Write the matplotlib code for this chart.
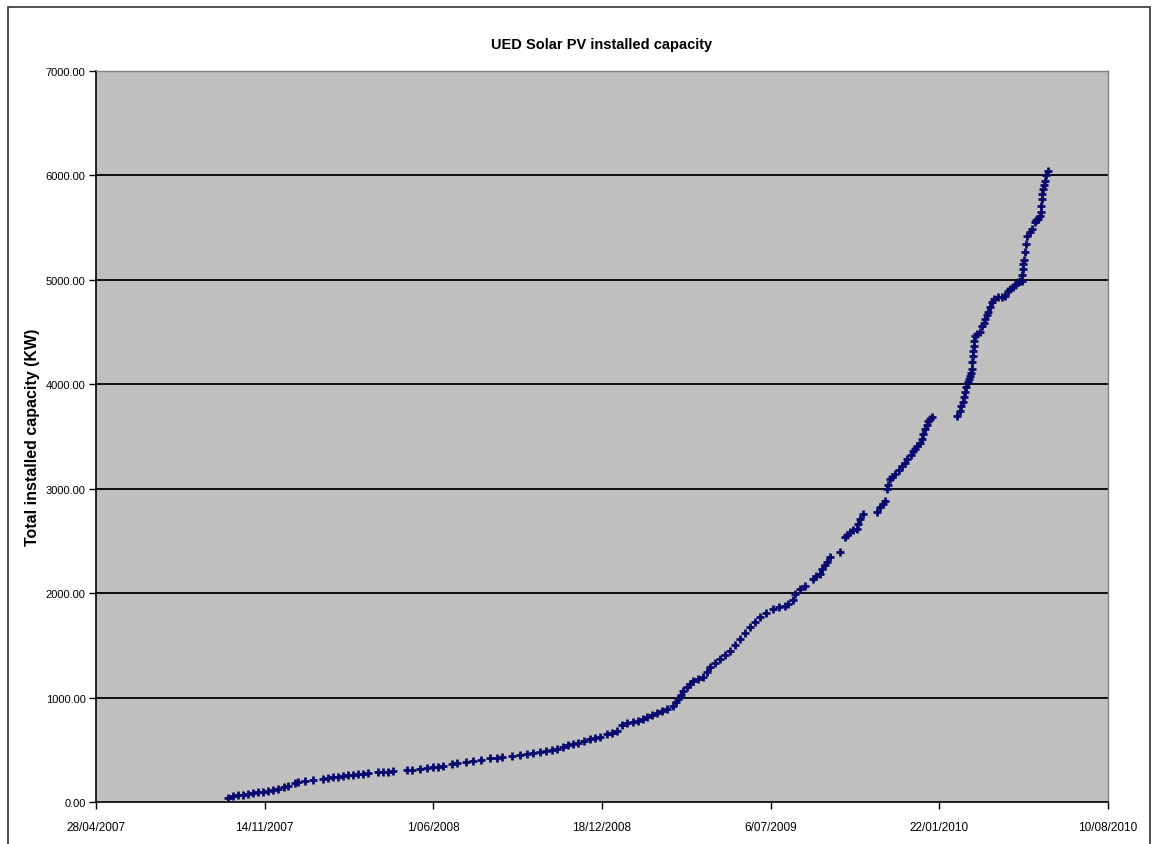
import numpy as np
import pandas as pd
import matplotlib
matplotlib.use("Agg")
import matplotlib.pyplot as plt
from matplotlib.patches import Rectangle

plt.rcParams['font.family'] = ['Liberation Sans', 'DejaVu Sans']

#%% datos (fecha, kW acumulados)
fechas = [
    "2007-10-02", "2007-10-07", "2007-10-13", "2007-10-19", "2007-10-25", "2007-10-31",
    "2007-11-06", "2007-11-12", "2007-11-18", "2007-11-24", "2007-11-30", "2007-12-07",
    "2007-12-12", "2007-12-20", "2007-12-24", "2008-01-01", "2008-01-10", "2008-01-22",
    "2008-01-28", "2008-02-03", "2008-02-09", "2008-02-15", "2008-02-21", "2008-02-27",
    "2008-03-04", "2008-03-10", "2008-03-16", "2008-03-27", "2008-04-02", "2008-04-08",
    "2008-04-14", "2008-05-01", "2008-05-07", "2008-05-16", "2008-05-24", "2008-06-01",
    "2008-06-07", "2008-06-12", "2008-06-23", "2008-06-29", "2008-07-10", "2008-07-18",
    "2008-07-28", "2008-08-07", "2008-08-15", "2008-08-21", "2008-09-02", "2008-09-12",
    "2008-09-20", "2008-09-27", "2008-10-05", "2008-10-13", "2008-10-20", "2008-10-26",
    "2008-11-02", "2008-11-08", "2008-11-14", "2008-11-20", "2008-11-27", "2008-12-04",
    "2008-12-10", "2008-12-16", "2008-12-24", "2008-12-30", "2009-01-05", "2009-01-11",
    "2009-01-17", "2009-01-24", "2009-01-30", "2009-02-05", "2009-02-09", "2009-02-15",
    "2009-02-21", "2009-02-27", "2009-03-05", "2009-03-12", "2009-03-16", "2009-03-18",
    "2009-03-22", "2009-03-24", "2009-03-29", "2009-04-01", "2009-04-05", "2009-04-11",
    "2009-04-17", "2009-04-22", "2009-04-25", "2009-05-01", "2009-05-07", "2009-05-13",
    "2009-05-19", "2009-05-25", "2009-05-31", "2009-06-06", "2009-06-11", "2009-06-17",
    "2009-06-23", "2009-06-30", "2009-07-09", "2009-07-16", "2009-07-23", "2009-07-27",
    "2009-08-01", "2009-08-04", "2009-08-10", "2009-08-16", "2009-08-25", "2009-08-29",
    "2009-09-02", "2009-09-05", "2009-09-08", "2009-09-11", "2009-09-14", "2009-09-26",
    "2009-10-02", "2009-10-05", "2009-10-08", "2009-10-12", "2009-10-16", "2009-10-18",
    "2009-10-20", "2009-10-23", "2009-11-09", "2009-11-13", "2009-11-16", "2009-11-19",
    "2009-11-21", "2009-11-22", "2009-11-24", "2009-11-27", "2009-11-30", "2009-12-05",
    "2009-12-09", "2009-12-12", "2009-12-15", "2009-12-19", "2009-12-22", "2009-12-24",
    "2009-12-27", "2009-12-30", "2010-01-01", "2010-01-03", "2010-01-05", "2010-01-07",
    "2010-01-09", "2010-01-11", "2010-01-13", "2010-02-12", "2010-02-15", "2010-02-17",
    "2010-02-19", "2010-02-20", "2010-02-21", "2010-02-23", "2010-02-25", "2010-02-26",
    "2010-02-27", "2010-03-01", "2010-03-02", "2010-03-02", "2010-03-03", "2010-03-03",
    "2010-03-04", "2010-03-04", "2010-03-05", "2010-03-08", "2010-03-11", "2010-03-14",
    "2010-03-16", "2010-03-17", "2010-03-19", "2010-03-21", "2010-03-23", "2010-03-25",
    "2010-03-28", "2010-04-02", "2010-04-06", "2010-04-10", "2010-04-13", "2010-04-16",
    "2010-04-19", "2010-04-22", "2010-04-25", "2010-04-28", "2010-04-30", "2010-04-30",
    "2010-05-01", "2010-05-01", "2010-05-02", "2010-05-04", "2010-05-05", "2010-05-06",
    "2010-05-09", "2010-05-12", "2010-05-15", "2010-05-17", "2010-05-19", "2010-05-21",
    "2010-05-23", "2010-05-23", "2010-05-24", "2010-05-24", "2010-05-25", "2010-05-26",
    "2010-05-27", "2010-05-29", "2010-05-31",
]
kw = [
    38, 57, 67, 70, 77, 86,
    96, 100, 105, 115, 124, 144,
    153, 182, 192, 201, 211, 220,
    230, 239, 242, 249, 259, 262,
    268, 271, 278, 287, 290, 292,
    297, 306, 310, 316, 326, 335,
    338, 345, 364, 373, 383, 393,
    402, 421, 424, 431, 440, 450,
    460, 469, 479, 488, 498, 508,
    527, 546, 555, 565, 584, 603,
    613, 622, 651, 661, 680, 737,
    756, 766, 776, 795, 814, 833,
    852, 871, 891, 919, 958, 986,
    1025, 1063, 1101, 1130, 1159, 1178,
    1197, 1245, 1293, 1331, 1369, 1408,
    1446, 1503, 1561, 1618, 1676, 1724,
    1772, 1810, 1848, 1867, 1877, 1896,
    1934, 1992, 2040, 2068, 2135, 2160,
    2183, 2230, 2269, 2300, 2346, 2394,
    2538, 2560, 2585, 2600, 2614, 2660,
    2710, 2758, 2777, 2825, 2850, 2882,
    2997, 3040, 3093, 3115, 3141, 3180,
    3217, 3250, 3285, 3325, 3361, 3385,
    3409, 3440, 3476, 3525, 3572, 3610,
    3648, 3670, 3687, 3696, 3744, 3790,
    3830, 3880, 3926, 3975, 4022, 4050,
    4079, 4110, 4146, 4210, 4271, 4320,
    4366, 4415, 4462, 4480, 4501, 4558,
    4590, 4625, 4660, 4692, 4740, 4788,
    4815, 4836, 4840, 4845, 4893, 4910,
    4932, 4955, 4979, 4985, 4989, 5050,
    5104, 5150, 5190, 5267, 5343, 5420,
    5455, 5487, 5554, 5570, 5583, 5615,
    5650, 5710, 5774, 5820, 5870, 5910,
    5947, 6000, 6042,
]
inicio = pd.Timestamp("2007-04-28")
fin = pd.Timestamp("2010-08-10")
y_ticks = np.arange(0, 7001, 1000)

fechas = pd.to_datetime(fechas)

#%% figura
fig = plt.figure(figsize=(11.53, 8.45), dpi=100)
fig.patch.set_facecolor('white')
fig.patches.append(Rectangle((8/1153, -0.05), 1142/1153, 1.05 - 8/845,
                             transform=fig.transFigure, fill=False,
                             edgecolor='#333333', linewidth=1.2))

ax = fig.add_axes([96/1153, 1 - 803/845, 1012/1153, 731/845])
ax.set_facecolor('#C0C0C0')

for yv in y_ticks[1:-1]:
    ax.axhline(yv, color='black', linewidth=1.3, zorder=1)

ax.plot(fechas, kw, linestyle='none', marker='+', markersize=6,
        markeredgewidth=2.0, color='#0A0A6E', zorder=3)

ax.set_xlim(inicio, fin)
ax.set_ylim(0, 7000)

xt = [inicio + pd.Timedelta(days=200 * k) for k in range(7)]
ax.set_xticks(xt)
ax.set_xticklabels([f"{d.day}/{d.month:02d}/{d.year}" for d in xt], fontsize=8.5)
ax.set_yticks(y_ticks)
ax.set_yticklabels([f"{v:.2f}" for v in y_ticks], fontsize=8)
ax.tick_params(axis='both', direction='out', length=5, width=1, color='black')
ax.tick_params(axis='x', pad=8.5)
ax.tick_params(axis='y', pad=2.5)

for s in ['left', 'bottom']:
    ax.spines[s].set_color('black')
    ax.spines[s].set_linewidth(1.2)
for s in ['top', 'right']:
    ax.spines[s].set_color('#808080')
    ax.spines[s].set_linewidth(1.0)

fig.text(602/1153, 1 - 45/845, 'UED Solar PV installed capacity',
         ha='center', va='center', fontsize=10.5, fontweight='bold')
fig.text(33/1153, 1 - 437/845, 'Total installed capacity (KW)',
         ha='center', va='center', rotation=90, fontsize=11.5, fontweight='bold')

fig.savefig('out.png', dpi=100)
